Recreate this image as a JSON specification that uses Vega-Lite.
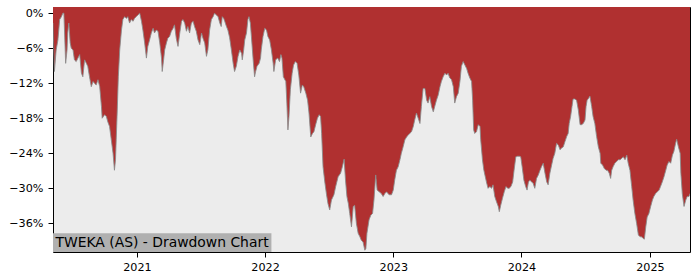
{
  "$schema": "https://vega.github.io/schema/vega-lite/v6.json",
  "width": 637,
  "height": 245,
  "autosize": {"type": "none"},
  "padding": {"left": 53, "top": 7, "right": 10, "bottom": 28},
  "background": "white",
  "config": {
    "font": "DejaVu Sans",
    "view": {"stroke": "black", "strokeWidth": 1, "fill": "#ececec"},
    "axis": {
      "grid": false,
      "domain": false,
      "tickColor": "black",
      "tickSize": 5,
      "tickWidth": 1,
      "labelColor": "black",
      "labelFont": "DejaVu Sans",
      "labelFontSize": 11.2,
      "title": null
    }
  },
  "data": {"values": [
    {"date": "2020-05-07", "dd": -1.7},
    {"date": "2020-05-11", "dd": -10.0},
    {"date": "2020-05-16", "dd": -6.3},
    {"date": "2020-05-21", "dd": -4.6},
    {"date": "2020-05-26", "dd": -1.1},
    {"date": "2020-05-31", "dd": -0.6},
    {"date": "2020-06-04", "dd": 0},
    {"date": "2020-06-07", "dd": 0},
    {"date": "2020-06-09", "dd": -3.4},
    {"date": "2020-06-12", "dd": -8.6},
    {"date": "2020-06-16", "dd": -6.3},
    {"date": "2020-06-18", "dd": -3.4},
    {"date": "2020-06-21", "dd": -1.7},
    {"date": "2020-06-25", "dd": -5.1},
    {"date": "2020-06-28", "dd": -6.0},
    {"date": "2020-07-03", "dd": -6.3},
    {"date": "2020-07-07", "dd": -8.0},
    {"date": "2020-07-12", "dd": -8.3},
    {"date": "2020-07-17", "dd": -7.7},
    {"date": "2020-07-22", "dd": -7.1},
    {"date": "2020-07-27", "dd": -10.3},
    {"date": "2020-07-31", "dd": -10.9},
    {"date": "2020-08-05", "dd": -8.0},
    {"date": "2020-08-10", "dd": -8.6},
    {"date": "2020-08-14", "dd": -9.1},
    {"date": "2020-08-19", "dd": -10.9},
    {"date": "2020-08-24", "dd": -12.6},
    {"date": "2020-08-29", "dd": -11.7},
    {"date": "2020-09-02", "dd": -12.0},
    {"date": "2020-09-07", "dd": -12.3},
    {"date": "2020-09-12", "dd": -11.4},
    {"date": "2020-09-17", "dd": -12.6},
    {"date": "2020-09-22", "dd": -16.0},
    {"date": "2020-09-24", "dd": -18.0},
    {"date": "2020-10-01", "dd": -17.4},
    {"date": "2020-10-06", "dd": -17.7},
    {"date": "2020-10-10", "dd": -18.6},
    {"date": "2020-10-15", "dd": -19.4},
    {"date": "2020-10-20", "dd": -21.7},
    {"date": "2020-10-25", "dd": -24.0},
    {"date": "2020-10-29", "dd": -26.9},
    {"date": "2020-11-01", "dd": -25.1},
    {"date": "2020-11-03", "dd": -21.7},
    {"date": "2020-11-06", "dd": -16.6},
    {"date": "2020-11-09", "dd": -10.9},
    {"date": "2020-11-13", "dd": -6.3},
    {"date": "2020-11-18", "dd": -2.9},
    {"date": "2020-11-22", "dd": -1.1},
    {"date": "2020-11-27", "dd": -0.6},
    {"date": "2020-12-02", "dd": -0.9},
    {"date": "2020-12-06", "dd": -0.6},
    {"date": "2020-12-11", "dd": -1.7},
    {"date": "2020-12-16", "dd": -1.1},
    {"date": "2020-12-21", "dd": -1.4},
    {"date": "2020-12-25", "dd": -0.9},
    {"date": "2020-12-30", "dd": -0.6},
    {"date": "2021-01-04", "dd": -0.3},
    {"date": "2021-01-09", "dd": 0},
    {"date": "2021-01-14", "dd": -1.4},
    {"date": "2021-01-18", "dd": -2.9},
    {"date": "2021-01-23", "dd": -5.1},
    {"date": "2021-01-28", "dd": -7.7},
    {"date": "2021-02-01", "dd": -5.7},
    {"date": "2021-02-06", "dd": -4.6},
    {"date": "2021-02-11", "dd": -3.4},
    {"date": "2021-02-16", "dd": -2.6},
    {"date": "2021-02-20", "dd": -3.4},
    {"date": "2021-02-25", "dd": -2.9},
    {"date": "2021-03-02", "dd": -3.1},
    {"date": "2021-03-07", "dd": -5.1},
    {"date": "2021-03-12", "dd": -7.7},
    {"date": "2021-03-14", "dd": -10.0},
    {"date": "2021-03-18", "dd": -8.0},
    {"date": "2021-03-21", "dd": -6.3},
    {"date": "2021-03-26", "dd": -5.1},
    {"date": "2021-03-30", "dd": -4.3},
    {"date": "2021-04-04", "dd": -4.0},
    {"date": "2021-04-09", "dd": -3.1},
    {"date": "2021-04-14", "dd": -2.6},
    {"date": "2021-04-18", "dd": -2.0},
    {"date": "2021-04-23", "dd": -4.3},
    {"date": "2021-04-28", "dd": -5.7},
    {"date": "2021-05-03", "dd": -3.4},
    {"date": "2021-05-08", "dd": -1.4},
    {"date": "2021-05-12", "dd": -1.1},
    {"date": "2021-05-17", "dd": -1.7},
    {"date": "2021-05-22", "dd": -3.1},
    {"date": "2021-05-26", "dd": -2.3},
    {"date": "2021-05-31", "dd": -3.4},
    {"date": "2021-06-05", "dd": -1.7},
    {"date": "2021-06-10", "dd": -1.4},
    {"date": "2021-06-14", "dd": -2.3},
    {"date": "2021-06-19", "dd": -3.1},
    {"date": "2021-06-24", "dd": -4.6},
    {"date": "2021-06-29", "dd": -5.4},
    {"date": "2021-07-04", "dd": -3.4},
    {"date": "2021-07-08", "dd": -4.3},
    {"date": "2021-07-13", "dd": -5.1},
    {"date": "2021-07-18", "dd": -7.4},
    {"date": "2021-07-22", "dd": -6.3},
    {"date": "2021-07-27", "dd": -2.9},
    {"date": "2021-08-01", "dd": -1.1},
    {"date": "2021-08-06", "dd": -0.6},
    {"date": "2021-08-10", "dd": 0},
    {"date": "2021-08-15", "dd": -0.3},
    {"date": "2021-08-20", "dd": -0.6},
    {"date": "2021-08-25", "dd": -1.7},
    {"date": "2021-08-29", "dd": -2.3},
    {"date": "2021-09-01", "dd": -0.6},
    {"date": "2021-09-05", "dd": -0.9},
    {"date": "2021-09-08", "dd": -1.4},
    {"date": "2021-09-13", "dd": -2.3},
    {"date": "2021-09-17", "dd": -2.9},
    {"date": "2021-09-22", "dd": -4.2},
    {"date": "2021-09-27", "dd": -6.3},
    {"date": "2021-10-02", "dd": -8.6},
    {"date": "2021-10-06", "dd": -10.0},
    {"date": "2021-10-11", "dd": -9.1},
    {"date": "2021-10-16", "dd": -7.4},
    {"date": "2021-10-21", "dd": -6.3},
    {"date": "2021-10-26", "dd": -6.9},
    {"date": "2021-10-28", "dd": -8.0},
    {"date": "2021-11-01", "dd": -6.3},
    {"date": "2021-11-04", "dd": -4.6},
    {"date": "2021-11-09", "dd": -3.4},
    {"date": "2021-11-13", "dd": -1.1},
    {"date": "2021-11-16", "dd": -0.6},
    {"date": "2021-11-20", "dd": -1.7},
    {"date": "2021-11-23", "dd": -4.0},
    {"date": "2021-11-28", "dd": -8.0},
    {"date": "2021-12-02", "dd": -10.9},
    {"date": "2021-12-05", "dd": -10.0},
    {"date": "2021-12-09", "dd": -9.1},
    {"date": "2021-12-15", "dd": -8.6},
    {"date": "2021-12-19", "dd": -7.7},
    {"date": "2021-12-21", "dd": -6.3},
    {"date": "2021-12-26", "dd": -4.0},
    {"date": "2021-12-31", "dd": -2.6},
    {"date": "2022-01-05", "dd": -2.9},
    {"date": "2022-01-09", "dd": -4.0},
    {"date": "2022-01-14", "dd": -4.6},
    {"date": "2022-01-19", "dd": -6.3},
    {"date": "2022-01-24", "dd": -8.6},
    {"date": "2022-01-26", "dd": -10.0},
    {"date": "2022-01-31", "dd": -8.0},
    {"date": "2022-02-06", "dd": -7.7},
    {"date": "2022-02-11", "dd": -8.3},
    {"date": "2022-02-15", "dd": -7.1},
    {"date": "2022-02-18", "dd": -7.7},
    {"date": "2022-02-22", "dd": -10.9},
    {"date": "2022-03-01", "dd": -11.7},
    {"date": "2022-03-04", "dd": -15.4},
    {"date": "2022-03-07", "dd": -20.0},
    {"date": "2022-03-10", "dd": -17.7},
    {"date": "2022-03-14", "dd": -13.1},
    {"date": "2022-03-19", "dd": -10.3},
    {"date": "2022-03-23", "dd": -8.9},
    {"date": "2022-03-28", "dd": -8.3},
    {"date": "2022-04-02", "dd": -8.6},
    {"date": "2022-04-07", "dd": -10.6},
    {"date": "2022-04-12", "dd": -13.7},
    {"date": "2022-04-17", "dd": -12.3},
    {"date": "2022-04-21", "dd": -12.6},
    {"date": "2022-04-27", "dd": -13.7},
    {"date": "2022-05-02", "dd": -14.9},
    {"date": "2022-05-06", "dd": -17.1},
    {"date": "2022-05-11", "dd": -21.2},
    {"date": "2022-05-16", "dd": -20.6},
    {"date": "2022-05-20", "dd": -20.3},
    {"date": "2022-05-25", "dd": -19.1},
    {"date": "2022-05-30", "dd": -18.0},
    {"date": "2022-06-04", "dd": -17.4},
    {"date": "2022-06-08", "dd": -17.7},
    {"date": "2022-06-11", "dd": -20.6},
    {"date": "2022-06-15", "dd": -26.3},
    {"date": "2022-06-20", "dd": -28.9},
    {"date": "2022-06-25", "dd": -31.1},
    {"date": "2022-06-29", "dd": -32.6},
    {"date": "2022-07-04", "dd": -33.7},
    {"date": "2022-07-09", "dd": -32.0},
    {"date": "2022-07-16", "dd": -31.1},
    {"date": "2022-07-21", "dd": -29.7},
    {"date": "2022-07-28", "dd": -28.0},
    {"date": "2022-08-04", "dd": -27.4},
    {"date": "2022-08-09", "dd": -26.3},
    {"date": "2022-08-14", "dd": -25.0},
    {"date": "2022-08-18", "dd": -28.6},
    {"date": "2022-08-22", "dd": -31.4},
    {"date": "2022-08-26", "dd": -32.6},
    {"date": "2022-08-30", "dd": -34.3},
    {"date": "2022-09-04", "dd": -36.6},
    {"date": "2022-09-09", "dd": -33.1},
    {"date": "2022-09-13", "dd": -32.9},
    {"date": "2022-09-18", "dd": -36.0},
    {"date": "2022-09-23", "dd": -37.7},
    {"date": "2022-09-28", "dd": -38.3},
    {"date": "2022-10-02", "dd": -38.9},
    {"date": "2022-10-07", "dd": -39.2},
    {"date": "2022-10-12", "dd": -40.6},
    {"date": "2022-10-15", "dd": -40.3},
    {"date": "2022-10-18", "dd": -37.7},
    {"date": "2022-10-24", "dd": -35.4},
    {"date": "2022-10-29", "dd": -34.6},
    {"date": "2022-11-03", "dd": -34.3},
    {"date": "2022-11-07", "dd": -32.0},
    {"date": "2022-11-12", "dd": -27.7},
    {"date": "2022-11-16", "dd": -30.3},
    {"date": "2022-11-22", "dd": -30.6},
    {"date": "2022-11-28", "dd": -30.9},
    {"date": "2022-12-03", "dd": -31.4},
    {"date": "2022-12-08", "dd": -30.9},
    {"date": "2022-12-13", "dd": -30.6},
    {"date": "2022-12-20", "dd": -31.1},
    {"date": "2022-12-27", "dd": -31.1},
    {"date": "2023-01-01", "dd": -30.3},
    {"date": "2023-01-05", "dd": -28.6},
    {"date": "2023-01-10", "dd": -26.9},
    {"date": "2023-01-15", "dd": -26.3},
    {"date": "2023-01-20", "dd": -25.1},
    {"date": "2023-01-24", "dd": -24.0},
    {"date": "2023-01-29", "dd": -22.9},
    {"date": "2023-02-03", "dd": -21.7},
    {"date": "2023-02-08", "dd": -21.2},
    {"date": "2023-02-12", "dd": -20.9},
    {"date": "2023-02-17", "dd": -20.6},
    {"date": "2023-02-22", "dd": -20.3},
    {"date": "2023-02-27", "dd": -19.4},
    {"date": "2023-03-03", "dd": -18.3},
    {"date": "2023-03-08", "dd": -17.1},
    {"date": "2023-03-13", "dd": -18.0},
    {"date": "2023-03-18", "dd": -18.9},
    {"date": "2023-03-22", "dd": -16.0},
    {"date": "2023-03-27", "dd": -12.9},
    {"date": "2023-04-01", "dd": -12.9},
    {"date": "2023-04-06", "dd": -14.9},
    {"date": "2023-04-10", "dd": -15.4},
    {"date": "2023-04-15", "dd": -14.3},
    {"date": "2023-04-20", "dd": -16.0},
    {"date": "2023-04-25", "dd": -16.9},
    {"date": "2023-04-29", "dd": -16.0},
    {"date": "2023-05-04", "dd": -14.9},
    {"date": "2023-05-09", "dd": -14.0},
    {"date": "2023-05-14", "dd": -12.6},
    {"date": "2023-05-18", "dd": -11.7},
    {"date": "2023-05-23", "dd": -10.9},
    {"date": "2023-05-28", "dd": -10.3},
    {"date": "2023-06-02", "dd": -10.6},
    {"date": "2023-06-06", "dd": -10.3},
    {"date": "2023-06-11", "dd": -11.1},
    {"date": "2023-06-16", "dd": -11.4},
    {"date": "2023-06-21", "dd": -12.6},
    {"date": "2023-06-25", "dd": -15.4},
    {"date": "2023-06-30", "dd": -14.3},
    {"date": "2023-07-05", "dd": -13.7},
    {"date": "2023-07-10", "dd": -11.6},
    {"date": "2023-07-14", "dd": -9.1},
    {"date": "2023-07-19", "dd": -8.3},
    {"date": "2023-07-24", "dd": -8.9},
    {"date": "2023-07-29", "dd": -9.5},
    {"date": "2023-08-02", "dd": -10.3},
    {"date": "2023-08-07", "dd": -11.1},
    {"date": "2023-08-12", "dd": -11.7},
    {"date": "2023-08-15", "dd": -14.9},
    {"date": "2023-08-18", "dd": -20.0},
    {"date": "2023-08-21", "dd": -20.6},
    {"date": "2023-08-26", "dd": -20.3},
    {"date": "2023-08-31", "dd": -19.1},
    {"date": "2023-09-05", "dd": -19.4},
    {"date": "2023-09-07", "dd": -21.7},
    {"date": "2023-09-12", "dd": -25.1},
    {"date": "2023-09-16", "dd": -26.9},
    {"date": "2023-09-20", "dd": -28.0},
    {"date": "2023-09-24", "dd": -29.1},
    {"date": "2023-09-28", "dd": -30.0},
    {"date": "2023-10-03", "dd": -29.7},
    {"date": "2023-10-08", "dd": -30.0},
    {"date": "2023-10-12", "dd": -29.4},
    {"date": "2023-10-17", "dd": -31.4},
    {"date": "2023-10-22", "dd": -32.3},
    {"date": "2023-10-27", "dd": -33.1},
    {"date": "2023-10-30", "dd": -34.0},
    {"date": "2023-11-03", "dd": -32.9},
    {"date": "2023-11-08", "dd": -31.7},
    {"date": "2023-11-13", "dd": -30.6},
    {"date": "2023-11-18", "dd": -29.7},
    {"date": "2023-11-23", "dd": -30.0},
    {"date": "2023-11-27", "dd": -30.0},
    {"date": "2023-12-02", "dd": -29.7},
    {"date": "2023-12-07", "dd": -28.9},
    {"date": "2023-12-11", "dd": -26.9},
    {"date": "2023-12-16", "dd": -24.6},
    {"date": "2023-12-21", "dd": -24.5},
    {"date": "2023-12-26", "dd": -24.5},
    {"date": "2023-12-30", "dd": -24.6},
    {"date": "2024-01-03", "dd": -26.3},
    {"date": "2024-01-08", "dd": -28.6},
    {"date": "2024-01-13", "dd": -29.7},
    {"date": "2024-01-17", "dd": -30.3},
    {"date": "2024-01-21", "dd": -28.9},
    {"date": "2024-01-25", "dd": -28.6},
    {"date": "2024-01-30", "dd": -28.9},
    {"date": "2024-02-03", "dd": -29.1},
    {"date": "2024-02-08", "dd": -30.0},
    {"date": "2024-02-13", "dd": -28.3},
    {"date": "2024-02-18", "dd": -27.7},
    {"date": "2024-02-23", "dd": -26.9},
    {"date": "2024-02-27", "dd": -26.3},
    {"date": "2024-03-03", "dd": -25.7},
    {"date": "2024-03-08", "dd": -27.4},
    {"date": "2024-03-13", "dd": -28.9},
    {"date": "2024-03-17", "dd": -29.4},
    {"date": "2024-03-22", "dd": -27.4},
    {"date": "2024-03-27", "dd": -26.0},
    {"date": "2024-03-31", "dd": -24.9},
    {"date": "2024-04-05", "dd": -24.0},
    {"date": "2024-04-10", "dd": -22.3},
    {"date": "2024-04-15", "dd": -22.6},
    {"date": "2024-04-20", "dd": -23.4},
    {"date": "2024-04-24", "dd": -23.1},
    {"date": "2024-04-29", "dd": -22.9},
    {"date": "2024-05-04", "dd": -22.0},
    {"date": "2024-05-09", "dd": -21.1},
    {"date": "2024-05-13", "dd": -20.6},
    {"date": "2024-05-16", "dd": -18.9},
    {"date": "2024-05-20", "dd": -17.7},
    {"date": "2024-05-24", "dd": -16.0},
    {"date": "2024-05-27", "dd": -14.7},
    {"date": "2024-06-01", "dd": -14.7},
    {"date": "2024-06-06", "dd": -14.9},
    {"date": "2024-06-11", "dd": -16.6},
    {"date": "2024-06-16", "dd": -19.1},
    {"date": "2024-06-20", "dd": -19.1},
    {"date": "2024-06-25", "dd": -18.9},
    {"date": "2024-06-30", "dd": -18.3},
    {"date": "2024-07-03", "dd": -16.0},
    {"date": "2024-07-06", "dd": -14.9},
    {"date": "2024-07-10", "dd": -14.6},
    {"date": "2024-07-14", "dd": -14.2},
    {"date": "2024-07-19", "dd": -16.0},
    {"date": "2024-07-23", "dd": -17.7},
    {"date": "2024-07-28", "dd": -18.9},
    {"date": "2024-08-02", "dd": -21.1},
    {"date": "2024-08-07", "dd": -22.9},
    {"date": "2024-08-12", "dd": -24.0},
    {"date": "2024-08-14", "dd": -25.7},
    {"date": "2024-08-19", "dd": -26.0},
    {"date": "2024-08-24", "dd": -26.6},
    {"date": "2024-08-29", "dd": -26.9},
    {"date": "2024-09-02", "dd": -26.9},
    {"date": "2024-09-07", "dd": -27.4},
    {"date": "2024-09-11", "dd": -28.3},
    {"date": "2024-09-14", "dd": -26.9},
    {"date": "2024-09-18", "dd": -26.3},
    {"date": "2024-09-23", "dd": -25.7},
    {"date": "2024-09-28", "dd": -25.4},
    {"date": "2024-10-03", "dd": -25.1},
    {"date": "2024-10-08", "dd": -25.1},
    {"date": "2024-10-12", "dd": -24.9},
    {"date": "2024-10-17", "dd": -24.6},
    {"date": "2024-10-22", "dd": -25.1},
    {"date": "2024-10-27", "dd": -24.3},
    {"date": "2024-10-31", "dd": -25.7},
    {"date": "2024-11-05", "dd": -26.9},
    {"date": "2024-11-10", "dd": -29.7},
    {"date": "2024-11-14", "dd": -32.0},
    {"date": "2024-11-19", "dd": -34.3},
    {"date": "2024-11-24", "dd": -36.0},
    {"date": "2024-11-29", "dd": -38.0},
    {"date": "2024-12-04", "dd": -38.3},
    {"date": "2024-12-08", "dd": -38.3},
    {"date": "2024-12-13", "dd": -38.6},
    {"date": "2024-12-16", "dd": -38.7},
    {"date": "2024-12-20", "dd": -36.6},
    {"date": "2024-12-24", "dd": -34.9},
    {"date": "2024-12-29", "dd": -34.3},
    {"date": "2025-01-03", "dd": -33.1},
    {"date": "2025-01-08", "dd": -32.0},
    {"date": "2025-01-12", "dd": -31.4},
    {"date": "2025-01-17", "dd": -30.9},
    {"date": "2025-01-22", "dd": -30.6},
    {"date": "2025-01-27", "dd": -30.3},
    {"date": "2025-01-31", "dd": -29.7},
    {"date": "2025-02-05", "dd": -28.9},
    {"date": "2025-02-10", "dd": -28.0},
    {"date": "2025-02-15", "dd": -26.9},
    {"date": "2025-02-19", "dd": -26.0},
    {"date": "2025-02-24", "dd": -25.4},
    {"date": "2025-03-01", "dd": -25.7},
    {"date": "2025-03-06", "dd": -24.3},
    {"date": "2025-03-10", "dd": -23.7},
    {"date": "2025-03-15", "dd": -22.3},
    {"date": "2025-03-18", "dd": -21.6},
    {"date": "2025-03-23", "dd": -22.9},
    {"date": "2025-03-28", "dd": -24.0},
    {"date": "2025-03-30", "dd": -27.4},
    {"date": "2025-04-03", "dd": -30.9},
    {"date": "2025-04-08", "dd": -33.1},
    {"date": "2025-04-13", "dd": -32.0},
    {"date": "2025-04-17", "dd": -31.4},
    {"date": "2025-04-22", "dd": -31.4},
    {"date": "2025-04-25", "dd": -30.9}
  ]},
  "layer": [
    {
      "mark": {"type": "area", "color": "#b03030", "clip": true},
      "encoding": {
        "x": {
          "field": "date",
          "type": "temporal",
          "scale": {
            "type": "utc",
            "domain": [
              {"year": 2020, "month": 5, "date": 7, "utc": true},
              {"year": 2025, "month": 4, "date": 25, "utc": true}
            ]
          },
          "axis": {
            "tickCount": {"interval": "year", "step": 1},
            "format": "%Y",
            "formatType": "utc",
            "labelPadding": 4,
            "labelFlush": false,
            "labelOverlap": false
          }
        },
        "y": {
          "field": "dd",
          "type": "quantitative",
          "scale": {"domain": [-40.9, 1.05], "nice": false, "zero": false},
          "axis": {
            "values": [-36, -30, -24, -18, -12, -6, 0],
            "labelExpr": "replace(format(datum.value, 'd'), '-', '−') + '%'",
            "labelPadding": 5
          }
        },
        "y2": {"datum": 1.05}
      }
    },
    {
      "mark": {"type": "line", "color": "#8a8a8a", "strokeWidth": 1, "opacity": 0.85, "clip": true},
      "encoding": {
        "x": {"field": "date", "type": "temporal"},
        "y": {"field": "dd", "type": "quantitative"}
      }
    },
    {
      "data": {"values": [{}]},
      "mark": {"type": "rect", "color": "#b0b0b0"},
      "encoding": {
        "x": {"datum": {"year": 2020, "month": 5, "date": 7, "utc": true}, "type": "temporal"},
        "x2": {"datum": {"year": 2022, "month": 1, "date": 19, "utc": true}},
        "y": {"datum": -40.9, "type": "quantitative"},
        "y2": {"datum": -37.67}
      }
    },
    {
      "data": {"values": [{}]},
      "mark": {"type": "text", "align": "left", "baseline": "middle", "font": "DejaVu Sans", "fontSize": 13.9, "color": "black"},
      "encoding": {
        "x": {"datum": {"year": 2020, "month": 5, "date": 14, "utc": true}, "type": "temporal"},
        "y": {"datum": -39.3, "type": "quantitative"},
        "text": {"value": "TWEKA (AS) - Drawdown Chart"}
      }
    }
  ]
}
